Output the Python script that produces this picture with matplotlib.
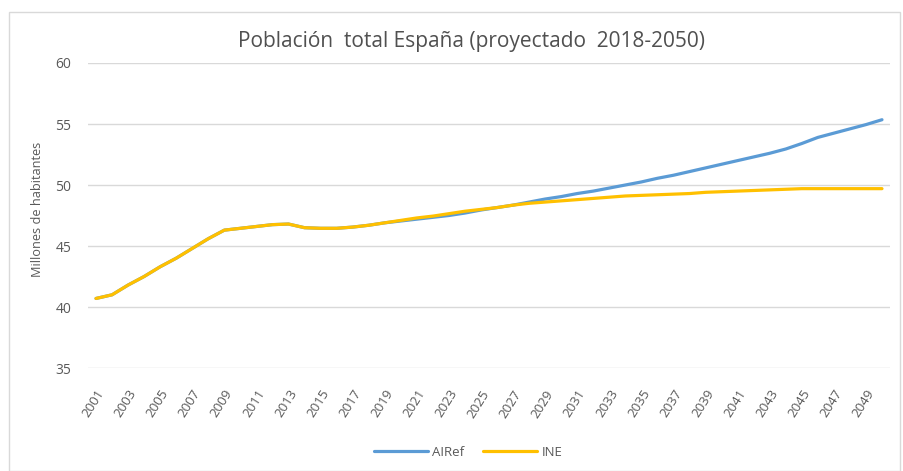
import matplotlib
matplotlib.use("Agg")
import matplotlib.pyplot as plt
from matplotlib.patches import Rectangle

plt.rcParams['font.family'] = ['Open Sans', 'DejaVu Sans']

years = list(range(2001, 2051))

# observed 2001-2018 (shared by both series)
observed = [40.7, 41.0, 41.8, 42.5, 43.3, 44.0, 44.8, 45.6, 46.3, 46.45,
            46.6, 46.75, 46.8, 46.5, 46.45, 46.45, 46.55, 46.7]

airef_proj = [46.9, 47.05, 47.2, 47.35, 47.5, 47.7, 47.95, 48.15, 48.35, 48.6,
              48.85, 49.05, 49.3, 49.5, 49.75, 50.0, 50.25, 50.55, 50.8, 51.1,
              51.4, 51.7, 52.0, 52.3, 52.6, 52.95, 53.4, 53.9, 54.25, 54.6,
              54.95, 55.35]

ine_proj = [46.9, 47.1, 47.3, 47.45, 47.65, 47.85, 48.0, 48.15, 48.35, 48.5,
            48.6, 48.7, 48.8, 48.9, 49.0, 49.1, 49.15, 49.2, 49.25, 49.3,
            49.4, 49.45, 49.5, 49.55, 49.6, 49.65, 49.7, 49.7, 49.7, 49.7,
            49.7, 49.7]

airef = observed + airef_proj
ine = observed + ine_proj

grey = "#595959"

fig = plt.figure(figsize=(9.04, 4.71), dpi=100)
ax = fig.add_axes([88/904, 1-368/471, (890-88)/904, (368-63)/471])

# chart border
fig.patches.append(Rectangle((9/904, 0), (900-9)/904, 1-12/471,
                             transform=fig.transFigure, fill=False,
                             edgecolor="#D9D9D9", linewidth=1))

ax.plot(years, airef, color="#5B9BD5", linewidth=2.3, label="AIRef", solid_capstyle="round")
ax.plot(years, ine, color="#FFC000", linewidth=2.3, label="INE", solid_capstyle="round")

ax.set_xlim(2000.5, 2050.5)
ax.set_ylim(35, 60)
ax.set_yticks([35, 40, 45, 50, 55, 60])
ax.set_xticks(years[::2])
ax.set_xticklabels([str(y) for y in years[::2]], rotation=58, ha="right",
                   rotation_mode="anchor", fontsize=9.5, color=grey)
ax.tick_params(axis="y", labelsize=10, colors=grey, length=0, pad=12)
ax.tick_params(axis="x", length=0, pad=14)
ax.grid(axis="y", color="#D9D9D9", linewidth=1)
ax.set_axisbelow(True)
for s in ax.spines.values():
    s.set_visible(False)

ax.set_ylabel("Millones de habitantes", fontsize=9.2, color=grey)
ax.yaxis.set_label_coords(-44/802, 0.52)
fig.text(472/904, 1-42/471, "Población  total España (proyectado  2018-2050)",
         ha="center", va="center", fontsize=15, color="#505050")

fig.legend(loc="center", bbox_to_anchor=(468/904, 1-452/471), ncol=2,
           frameon=False, fontsize=9.5, labelcolor=grey, handlelength=4.1,
           columnspacing=1.4, handletextpad=0.35)

fig.savefig("out.png", dpi=100)
